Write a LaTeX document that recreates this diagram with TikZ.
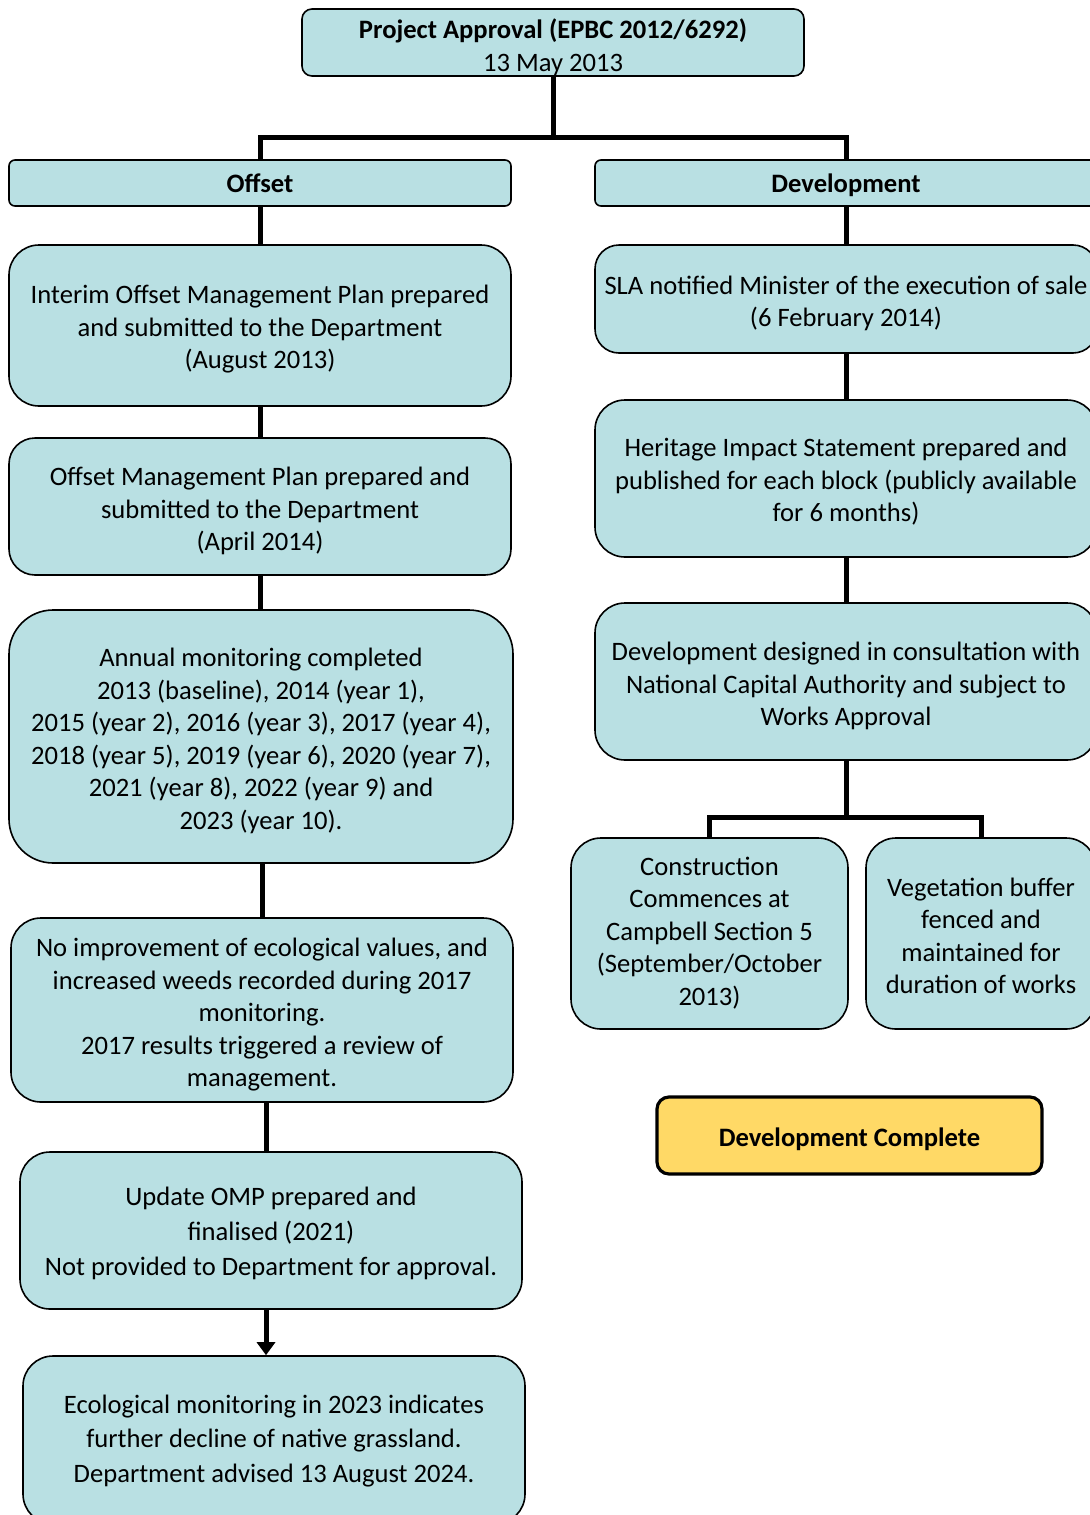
\documentclass[tikz,border=0pt]{standalone}
\usepackage{fontspec}
\setmainfont{Carlito}
\usetikzlibrary{arrows.meta}

\definecolor{boxblue}{RGB}{185,224,227}
\definecolor{boxgold}{RGB}{255,217,102}
% text block, lowered a little inside its box
\newcommand\lines[2][2.5pt]{\raisebox{-#1}[\height][\depth]{\begin{tabular}{@{}c@{}}#2\end{tabular}}}

\tikzset{
	stage/.style={draw=black, line width=0.8pt, fill=boxblue, align=center, inner sep=0pt,
		font=\fontsize{13.3}{16.25}\selectfont},
	head/.style={stage, rounded corners=3pt, font=\fontsize{13.3}{16.25}\selectfont\bfseries},
	link/.style={line width=2.5pt},
}

\begin{document}
\begin{tikzpicture}[x=0.5pt,y=-0.5pt]
		\clip (0,0) rectangle (1090,1515);

		% approval and the two branches
		\node[head, rounded corners=5pt, minimum width=251pt, minimum height=33.5pt] (approval) at (553,42.5) {\lines[3pt]{Project Approval (EPBC 2012/6292)\\\mdseries 13 May 2013}};
		\node[head, minimum width=251pt, minimum height=23pt] (offset) at (260,183) {\lines[1.5pt]{Offset}};
		\node[head, minimum width=251pt, minimum height=23pt] (develop) at (846,183) {\lines[1.5pt]{Development}};
		\coordinate (split) at (553,137);

		% offset side
		\node[stage, rounded corners=15pt, minimum width=251pt, minimum height=80.5pt] (interim) at (260,325.5) {\lines[2pt]{Interim Offset Management Plan prepared\\and submitted to the Department\\(August 2013)}};
		\node[stage, rounded corners=13pt, minimum width=251pt, minimum height=68.5pt] (omp) at (260,506.5) {\lines{Offset Management Plan prepared and\\submitted to the Department\\(April 2014)}};
		\node[stage, rounded corners=22pt, minimum width=252pt, minimum height=126.5pt] (annual) at (261,736.5) {\lines{Annual monitoring completed\\2013 (baseline), 2014 (year 1),\\2015 (year 2), 2016 (year 3), 2017 (year 4),\\2018 (year 5), 2019 (year 6), 2020 (year 7),\\2021 (year 8), 2022 (year 9) and\\2023 (year 10).}};
		\node[stage, rounded corners=15pt, minimum width=251pt, minimum height=92pt] (decline) at (262,1010) {\lines{No improvement of ecological values, and\\increased weeds recorded during 2017\\monitoring.\\2017 results triggered a review of\\management.}};
		\node[stage, rounded corners=15pt, minimum width=251pt, minimum height=78.5pt, font=\fontsize{13.3}{17.5}\selectfont] (update) at (271,1230.5) {\lines[1.5pt]{Update OMP prepared and\\finalised (2021)\\Not provided to Department for approval.}};
		\node[stage, rounded corners=15pt, minimum width=251pt, minimum height=84pt, font=\fontsize{13.3}{17.25}\selectfont] (ecology) at (274,1440) {\lines[0.5pt]{Ecological monitoring in 2023 indicates\\further decline of native grassland.\\Department advised 13 August 2024.}};

		% development side
		\node[stage, rounded corners=12pt, minimum width=251pt, minimum height=54pt] (sla) at (846,299) {\lines[2.5pt]{SLA notified Minister of the execution of sale\\(6 February 2014)}};
		\node[stage, rounded corners=15pt, minimum width=251pt, minimum height=78.5pt] (heritage) at (846,478.5) {\lines[2pt]{Heritage Impact Statement prepared and\\published for each block (publicly available\\for 6 months)}};
		\node[stage, rounded corners=15pt, minimum width=251pt, minimum height=78.5pt] (designed) at (846,681.5) {\lines{Development designed in consultation with\\National Capital Authority and subject to\\Works Approval}};
		\node[stage, rounded corners=15pt, minimum width=138.5pt, minimum height=95.5pt] (build) at (709.5,933.5) {\lines[0pt]{Construction\\Commences at\\Campbell Section 5\\(September/October\\2013)}};
		\node[stage, rounded corners=15pt, minimum width=115pt, minimum height=95.5pt] (buffer) at (981,933.5) {\lines[2.5pt]{Vegetation buffer\\fenced and\\maintained for\\duration of works}};
		\coordinate (fork) at (846,817);
		\node[head, draw=black, line width=1.6pt, fill=boxgold, rounded corners=6pt, minimum width=192.5pt, minimum height=38.5pt] (complete) at (849.5,1135.5) {\lines[2pt]{Development Complete}};

		% connectors
		\draw[link] (approval.south) -- (split);
		\draw[link] (offset.north) |- (split) -| (develop.north);
		\draw[link] (offset) -- (interim);
		\draw[link] (interim) -- (omp);
		\draw[link] (omp) -- (omp.south |- annual.north);
		\draw[link] (annual.south -| decline.north) -- (decline.north);
		\draw[link] ([xshift=2pt]decline.south) -- ([xshift=2pt]decline.south |- update.north);
		\draw[link, -{Triangle[width=9pt,length=6.5pt]}] ([xshift=-2.5pt]update.south) -- ([xshift=-2.5pt]update.south |- ecology.north);
		\draw[link] (develop) -- (sla);
		\draw[link] (sla) -- (heritage);
		\draw[link] (heritage) -- (designed);
		\draw[link] (designed.south) -- (fork);
		\draw[link] (build.north) |- (fork) -| (buffer.north);
	\end{tikzpicture}
\end{document}
